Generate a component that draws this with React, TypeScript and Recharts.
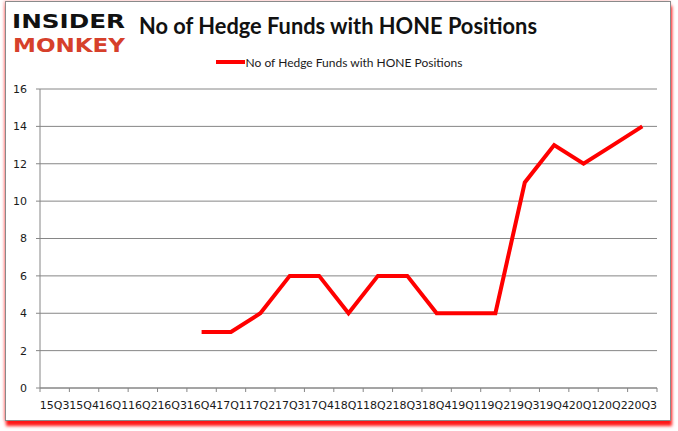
import React from "react";
import { LineChart, Line, XAxis, YAxis, CartesianGrid, Legend } from "recharts";

const quarters = [
  "15Q3", "15Q4", "16Q1", "16Q2", "16Q3", "16Q4", "17Q1", "17Q2", "17Q3", "17Q4",
  "18Q1", "18Q2", "18Q3", "18Q4", "19Q1", "19Q2", "19Q3", "19Q4", "20Q1", "20Q2", "20Q3",
];
const funds: (number | null)[] = [
  null, null, null, null, null, 3, 3, 4, 6, 6,
  4, 6, 6, 4, 4, 4, 11, 13, 12, 13, 14,
];
const yTicks = [0, 2, 4, 6, 8, 10, 12, 14, 16];
const seriesName = "No of Hedge Funds with HONE Positions";
const titleText = "No of Hedge Funds with HONE Positions";

const data = quarters.map((q, i) => ({ quarter: q, value: funds[i] }));

const AXIS = "#868686";
const TICK_SIZE = 4;
const TICK_MARGIN = 9;

function XTick(props: any) {
  const { x, y, payload, index, visibleTicksCount, width } = props;
  const band = width / visibleTicksCount;
  const axisY = y - TICK_SIZE - TICK_MARGIN;
  return (
    <g>
      <line x1={x - band / 2} x2={x - band / 2} y1={axisY} y2={axisY + TICK_SIZE} stroke={AXIS} />
      {index === visibleTicksCount - 1 && (
        <line x1={x + band / 2} x2={x + band / 2} y1={axisY} y2={axisY + TICK_SIZE} stroke={AXIS} />
      )}
      <text
        x={x}
        y={y}
        dy="0.71em"
        textAnchor="middle"
        fontFamily="'DejaVu Sans', sans-serif"
        fontSize={11}
        fill="#1a1a1a"
      >
        {payload.value}
      </text>
    </g>
  );
}

function LegendContent(props: any) {
  const { payload } = props;
  return (
    <div style={{ display: "flex", justifyContent: "center", alignItems: "center", height: 16 }}>
      {(payload || []).map((p: any) => (
        <div key={p.value} style={{ display: "flex", alignItems: "center" }}>
          <span style={{ display: "inline-block", width: 29, height: 4, background: p.color, marginRight: 1 }} />
          <span style={{ fontFamily: "Lato, 'Open Sans', sans-serif", fontSize: 12, color: "#1a1a1a" }}>
            {p.value}
          </span>
        </div>
      ))}
    </div>
  );
}

export default function App() {
  return (
    <div style={{ position: "absolute", left: 0, top: 0, width: 678, height: 431, background: "#fff", overflow: "hidden" }}>
      <div
        style={{
          position: "absolute",
          left: 5,
          top: 1,
          width: 664,
          height: 418,
          border: "1px solid #8a8a8a",
          background: "#fff",
          boxShadow: "1px 5px 3px rgba(255,0,0,0.9), -1px 0px 3px rgba(255,0,0,0.35)",
        }}
      />
      <svg style={{ position: "absolute", left: 0, top: 0 }} width={678} height={80}>
        <text
          x={12}
          y={28}
          fontFamily="'DejaVu Sans', sans-serif"
          fontWeight={900}
          fontSize={20}
          textLength={113}
          lengthAdjust="spacingAndGlyphs"
          fill="#111"
        >
          INSIDER
        </text>
        <text
          x={13}
          y={52}
          fontFamily="'DejaVu Sans', sans-serif"
          fontWeight={900}
          fontSize={20}
          textLength={112}
          lengthAdjust="spacingAndGlyphs"
          fill="#d6402b"
        >
          MONKEY
        </text>
        <text
          x={139}
          y={34}
          fontFamily="Lato, 'Open Sans', sans-serif"
          fontWeight={700}
          fontSize={22}
          textLength={398}
          lengthAdjust="spacingAndGlyphs"
          fill="#111"
        >
          {titleText}
        </text>
      </svg>
      <div style={{ position: "absolute", left: 0, top: 0 }}>
        <LineChart width={678} height={431} data={data} margin={{ top: 89, right: 21, bottom: 13, left: 10 }}>
          <CartesianGrid vertical={false} stroke={AXIS} strokeWidth={1} />
          <XAxis
            dataKey="quarter"
            scale="band"
            interval={0}
            height={30}
            axisLine={{ stroke: AXIS }}
            tickLine={false}
            tickSize={TICK_SIZE}
            tickMargin={TICK_MARGIN}
            tick={<XTick />}
          />
          <YAxis
            width={30}
            domain={[0, 16]}
            ticks={yTicks}
            interval={0}
            axisLine={{ stroke: AXIS }}
            tickLine={{ stroke: AXIS }}
            tickSize={4}
            tickMargin={9}
            tick={{ fontFamily: "'DejaVu Sans', sans-serif", fontSize: 11, fill: "#1a1a1a" }}
          />
          <Legend
            layout="horizontal"
            verticalAlign="middle"
            align="center"
            wrapperStyle={{ top: 54, left: 0, width: 678 }}
            content={<LegendContent />}
          />
          <Line
            type="linear"
            dataKey="value"
            name={seriesName}
            stroke="#ff0000"
            strokeWidth={4}
            dot={false}
            activeDot={false}
            connectNulls={false}
            isAnimationActive={false}
          />
        </LineChart>
      </div>
    </div>
  );
}
